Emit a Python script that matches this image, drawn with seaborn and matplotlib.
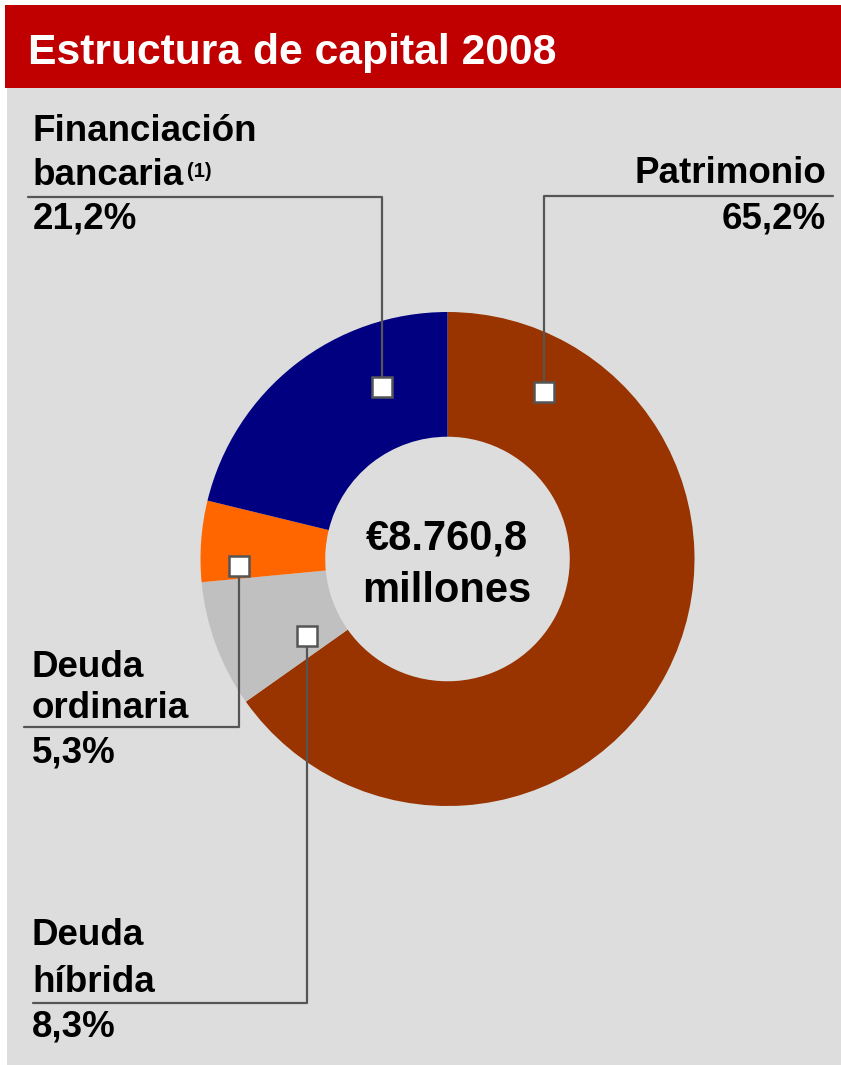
import matplotlib.pyplot as plt
import seaborn as sns
from matplotlib.patches import Rectangle

# data
categories = ['Patrimonio', 'Deuda híbrida', 'Deuda ordinaria', 'Financiación bancaria']
shares = [65.2, 8.3, 5.3, 21.2]
total_millones = 8760.8
title = 'Estructura de capital 2008'

colors = ['#993300', '#C0C0C0', '#FF6600', '#000080']

sns.set_theme(style='white')
plt.rcParams['font.family'] = ['Liberation Sans', 'DejaVu Sans']
plt.rcParams['text.color'] = 'black'

W, H = 841, 1065
fig = plt.figure(figsize=(W / 100, H / 100), dpi=100)
fig.patch.set_facecolor('white')

# fondo gris y barra roja del titulo (coordenadas en pixeles)
def px_rect(x0, y0, x1, y1, color):
    fig.add_artist(Rectangle((x0 / W, 1 - y1 / H), (x1 - x0) / W, (y1 - y0) / H,
                             transform=fig.transFigure, facecolor=color,
                             edgecolor='none', zorder=0))

px_rect(7, 5, W, H, '#DDDDDD')
px_rect(5, 5, W, 88, '#C00000')

# donut
cx, cy, R = 447.5, 559, 247
ax = fig.add_axes([(cx - R) / W, 1 - (cy + R) / H, 2 * R / W, 2 * R / H])
ax.pie(shares, colors=colors, startangle=90, counterclock=False,
       wedgeprops=dict(width=0.505, edgecolor='none'))
ax.set_xlim(-1, 1)
ax.set_ylim(-1, 1)
ax.set_aspect('equal')
ax.axis('off')
ax.patch.set_alpha(0)

# capa superior en pixeles para textos y lineas guia
ov = fig.add_axes([0, 0, 1, 1], zorder=5)
ov.set_xlim(0, W)
ov.set_ylim(H, 0)
ov.axis('off')
ov.patch.set_alpha(0)

ov.text(28, 64, title, color='white', fontsize=30.7, fontweight='bold', va='baseline')

def pct(v):
    return f'{v:.1f}'.replace('.', ',') + '%'

def euros(v):
    s = f'{v:,.1f}'.replace(',', 'X').replace('.', ',').replace('X', '.')
    return '€' + s

ov.text(447, 550, euros(total_millones), fontsize=30, fontweight='bold',
        ha='center', va='baseline', color='black')
ov.text(447, 602, 'millones', fontsize=30, fontweight='bold', ha='center',
        va='baseline', color='black')

lab = dict(fontsize=26.5, fontweight='bold', va='baseline', color='black')
lc = '#555555'

# Financiacion bancaria
ov.text(33, 141, 'Financiación', **lab)
ov.text(33, 185, 'bancaria', **lab)
ov.text(187, 177, '(1)', fontsize=14.5, fontweight='bold', va='baseline', color='black')
ov.text(33, 229, pct(shares[3]), **lab)
ov.plot([28, 382, 382], [197, 197, 387], color=lc, lw=1.6, zorder=6)

# Patrimonio
ov.text(826, 183, categories[0], ha='right', **lab)
ov.text(826, 228, pct(shares[0]), ha='right', **lab)
ov.plot([833, 544, 544], [196, 196, 392], color=lc, lw=1.6, zorder=6)

# Deuda ordinaria
ov.text(32, 677, 'Deuda', **lab)
ov.text(32, 718, 'ordinaria', **lab)
ov.text(32, 762, pct(shares[2]), **lab)
ov.plot([24, 239, 239], [727, 727, 566], color=lc, lw=1.6, zorder=6)

# Deuda hibrida
ov.text(32, 945, 'Deuda', **lab)
ov.text(32, 992, 'híbrida', **lab)
ov.text(32, 1037, pct(shares[1]), **lab)
ov.plot([33, 307, 307], [1003, 1003, 636], color=lc, lw=1.6, zorder=6)

# marcadores
ov.plot([382, 544, 239, 307], [387, 392, 566, 636], ls='none', marker='s',
        markersize=14.5, markerfacecolor='white', markeredgecolor=lc,
        markeredgewidth=1.8, zorder=7)

fig.savefig('out.png', dpi=100, facecolor=fig.get_facecolor())
